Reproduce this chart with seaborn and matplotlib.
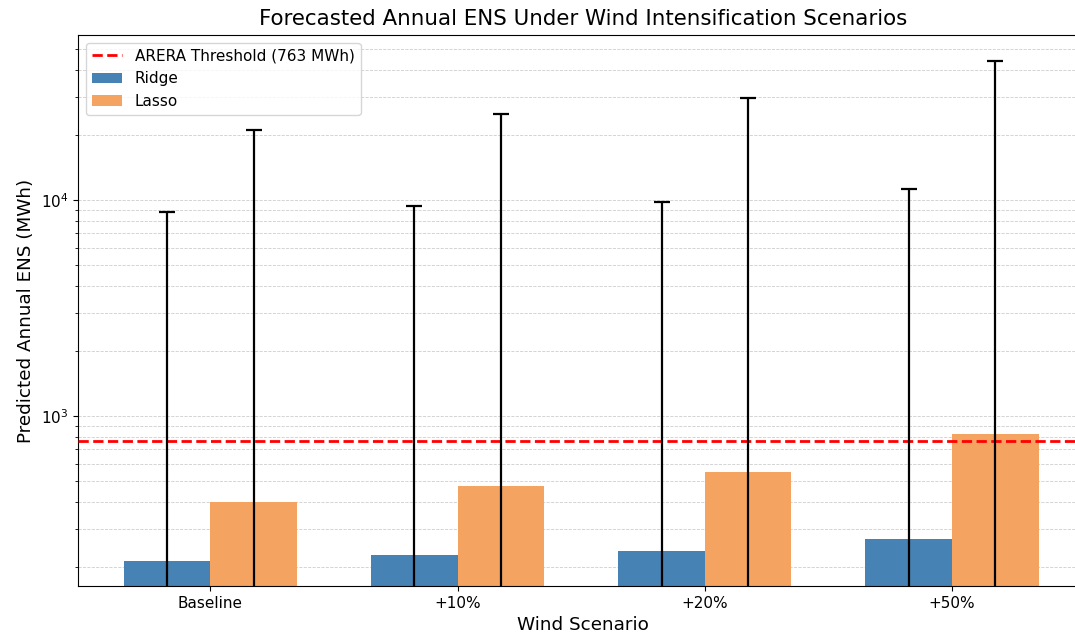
import matplotlib
matplotlib.use("Agg")
import matplotlib.pyplot as plt
import seaborn as sns
import pandas as pd
import numpy as np

# Scenario categories and model predictions (MWh)
scenarios = ["Baseline", "+10%", "+20%", "+50%"]
models = ["Ridge", "Lasso"]
ridge_pred = [213, 227, 237, 270]
lasso_pred = [398, 474, 552, 826]
# Upper ends of the uncertainty bands (symmetric errors)
ridge_upper = [8800, 9380, 9760, 11250]
lasso_upper = [21000, 25000, 29600, 44000]
threshold = 763

palette = {"Ridge": "#4682B4", "Lasso": "#F4A460"}

df = pd.DataFrame({
    "Scenario": scenarios * 2,
    "Model": ["Ridge"] * len(scenarios) + ["Lasso"] * len(scenarios),
    "ENS": ridge_pred + lasso_pred,
    "Upper": ridge_upper + lasso_upper,
})
df["Err"] = df["Upper"] - df["ENS"]

fig = plt.figure(figsize=(10.75, 6.39), dpi=100)
ax = fig.add_axes([78 / 1075, 53 / 639, 1010 / 1075, 551 / 639])

ax.axhline(threshold, color="red", linestyle="--", linewidth=2.0,
           label=f"ARERA Threshold ({threshold} MWh)", zorder=3)

sns.barplot(data=df, x="Scenario", y="ENS", hue="Model", order=scenarios,
            hue_order=models, palette=palette, width=0.7, saturation=1,
            errorbar=None, ax=ax, zorder=2)

# Error bars at each bar's centre
for container, model in zip(ax.containers, models):
    sub = df[df["Model"] == model].set_index("Scenario").loc[scenarios]
    xs = [p.get_x() + p.get_width() / 2 for p in container.patches]
    ax.errorbar(xs, sub["ENS"].values, yerr=sub["Err"].values, fmt="none",
                ecolor="black", elinewidth=1.6, capsize=6, capthick=1.6,
                zorder=4)

ax.set_yscale("log")
ax.set_ylim(163, 58000)
ax.set_xlim(-0.535, 3.55)
ax.grid(True, which="both", axis="y", linestyle="--", linewidth=0.6,
        color="#c8c8c8", alpha=0.9)
ax.set_axisbelow(True)
ax.tick_params(axis="both", which="major", labelsize=11)

ax.set_title("Forecasted Annual ENS Under Wind Intensification Scenarios",
             fontsize=15.4, pad=7)
ax.set_xlabel("Wind Scenario", fontsize=13.2, labelpad=4)
ax.set_ylabel("Predicted Annual ENS (MWh)", fontsize=13.2)

handles, labels = ax.get_legend_handles_labels()
ax.legend(handles, labels, loc="upper left", fontsize=11)

fig.savefig("out.png", dpi=100)
